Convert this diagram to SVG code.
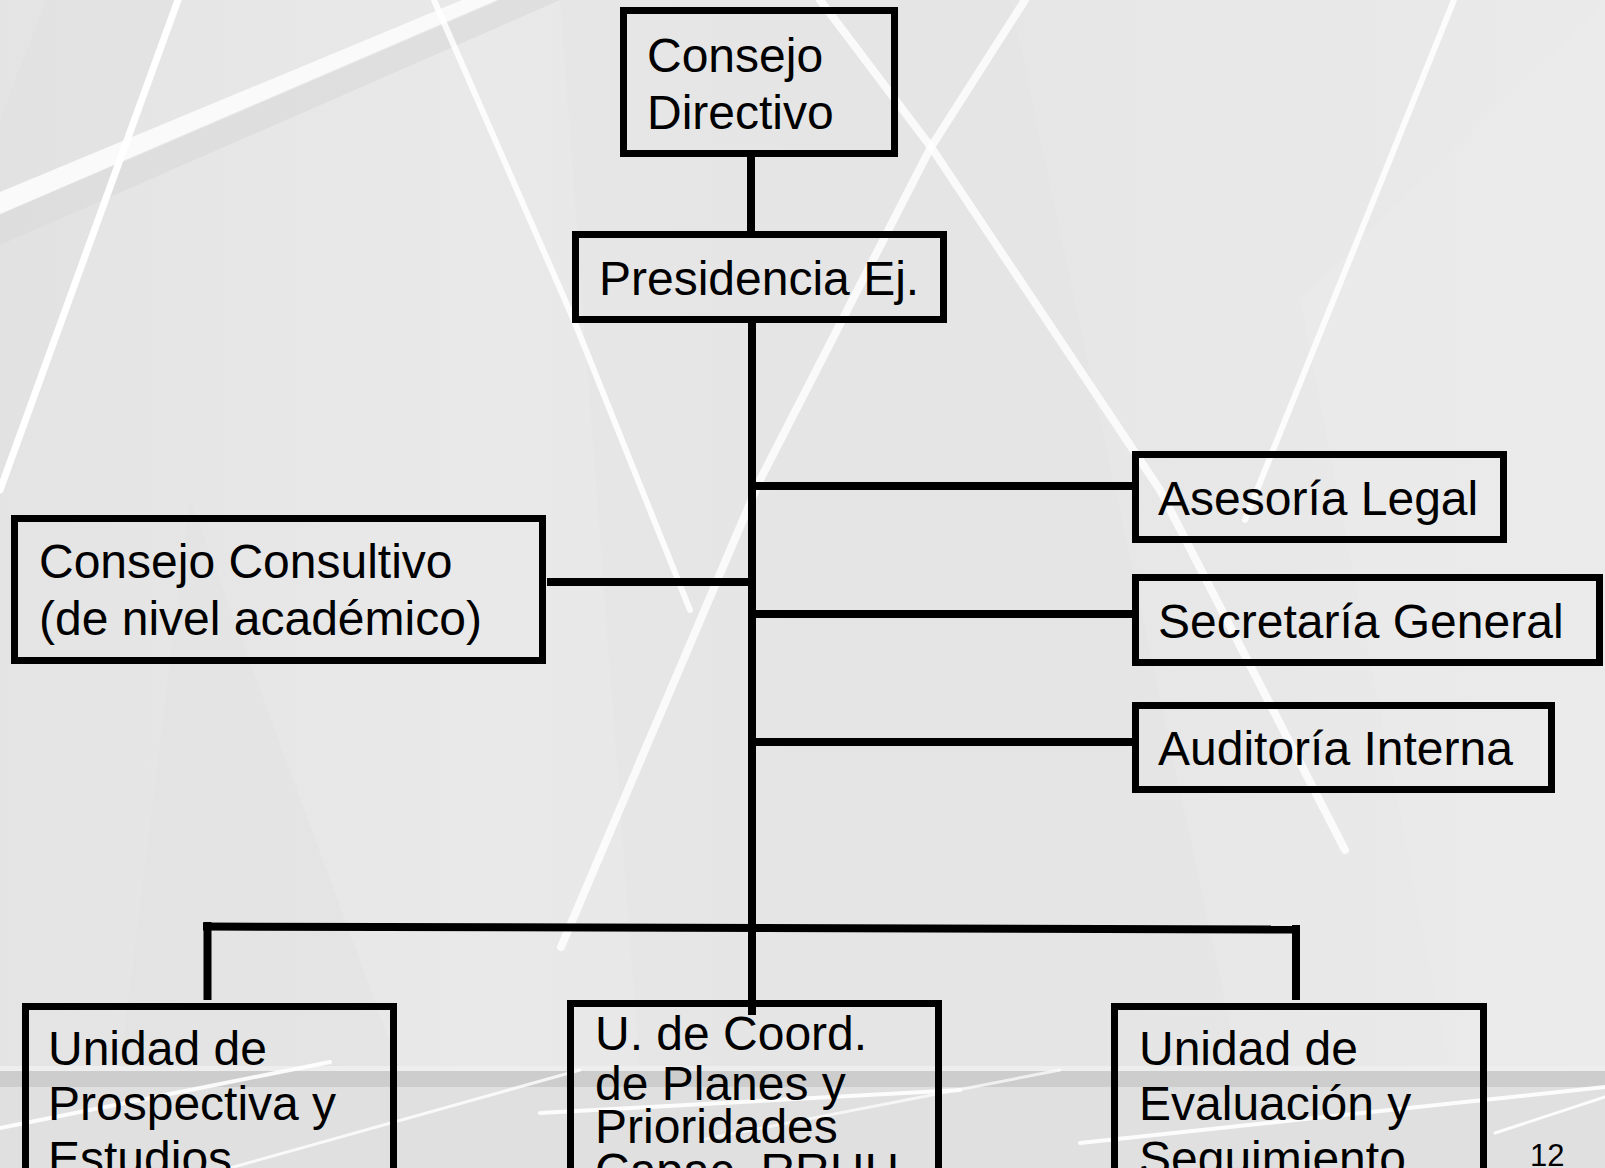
<svg xmlns="http://www.w3.org/2000/svg" width="1605" height="1168" viewBox="0 0 1605 1168">
<defs>
<style>
.box{fill:none;stroke:#000;stroke-width:7}
.t{font-family:"Liberation Sans",Arial,sans-serif;font-size:48px;fill:#000}
.c{stroke:#000;stroke-width:8;fill:none;stroke-linecap:butt}
.w{stroke:#fff;fill:none;stroke-linecap:round}
</style>
<linearGradient id="bg" x1="0" y1="0" x2="1" y2="0">
<stop offset="0" stop-color="#e4e4e4"/>
<stop offset="0.3" stop-color="#e9e9e9"/>
<stop offset="0.6" stop-color="#e6e6e6"/>
<stop offset="1" stop-color="#eaeaea"/>
</linearGradient>
</defs>
<g id="background">
<rect x="0" y="0" width="1605" height="1168" fill="url(#bg)"/>
<polygon points="46,0 180,0 0,490 0,120" fill="#e1e1e1" opacity="0.6"/>
<polygon points="190,500 400,1070 120,1070" fill="#e2e2e2" opacity="0.5"/>
<polygon points="560,0 1010,0 1240,1070 640,1070" fill="#e3e3e3" opacity="0.5"/>
<polygon points="1300,300 1605,0 1605,1070 1450,1070" fill="#ebebeb" opacity="0.5"/>
<polygon points="0,215 500,0 560,0 0,245" fill="#dcdcdc" opacity="0.8"/>
<polygon points="0,192 462,0 497,0 0,214" fill="#fafafa"/>
<path class="w" d="M178,0 L0,490" stroke-width="7"/>
<path class="w" d="M434,0 L575,323 L690,610" stroke-width="6" opacity="0.85"/>
<path class="w" d="M1025,0 L931,147 L760,480 L561,947" stroke-width="8" opacity="0.8"/>
<path class="w" d="M820,0 L931,147 L1160,490 L1345,850" stroke-width="8" opacity="0.8"/>
<path class="w" d="M1454,0 L1245,520" stroke-width="6" opacity="0.85"/>
<rect x="0" y="1066" width="1605" height="5" fill="#eeeeee"/>
<rect x="0" y="1071" width="1605" height="16" fill="#cdcdcd"/>
<rect x="0" y="1087" width="1605" height="81" fill="#e0e0e0"/>
<path class="w" d="M0,1128 L330,1062" stroke-width="4" opacity="0.9"/>
<path class="w" d="M230,1168 L580,1070" stroke-width="3" opacity="0.8"/>
<path class="w" d="M540,1113 L960,1090" stroke-width="4" opacity="0.9"/>
<path class="w" d="M700,1140 L1060,1070" stroke-width="3" opacity="0.7"/>
<path class="w" d="M1080,1143 L1605,1087" stroke-width="4" opacity="0.9"/>
<path class="w" d="M1495,1133 L1605,1097" stroke-width="3" opacity="0.9"/>
</g>
<g id="connectors">
<path class="c" d="M751,157 L751,231"/>
<path class="c" d="M752,323 L752,1015"/>
<path class="c" d="M547,582 L752,582"/>
<path class="c" d="M752,486 L1132,486"/>
<path class="c" d="M752,614 L1132,614"/>
<path class="c" d="M752,742 L1132,742"/>
<path class="c" d="M203,926.5 L1292,929.5" stroke-width="9"/>
<path class="c" d="M207.5,922 L207.5,1000"/>
<path class="c" d="M1296,925 L1296,1000" stroke-width="7"/>
</g>
<g id="consejo-directivo">
<rect class="box" x="623.5" y="10.5" width="271" height="143"/>
<text class="t" x="647" y="72">Consejo</text>
<text class="t" x="647" y="129">Directivo</text>
</g>
<g id="presidencia">
<rect class="box" x="575.5" y="234.5" width="368" height="85"/>
<text class="t" x="599" y="295">Presidencia Ej.</text>
</g>
<g id="consejo-consultivo">
<rect class="box" x="14.5" y="518.5" width="528" height="142"/>
<text class="t" x="39" y="578">Consejo Consultivo</text>
<text class="t" x="39" y="635">(de nivel académico)</text>
</g>
<g id="asesoria-legal">
<rect class="box" x="1135.5" y="454.5" width="368" height="85"/>
<text class="t" x="1158" y="515">Asesoría Legal</text>
</g>
<g id="secretaria-general">
<rect class="box" x="1135.5" y="577.5" width="464" height="85"/>
<text class="t" x="1158" y="638">Secretaría General</text>
</g>
<g id="auditoria-interna">
<rect class="box" x="1135.5" y="705.5" width="416" height="84"/>
<text class="t" x="1158" y="765">Auditoría Interna</text>
</g>
<g id="unidad-prospectiva">
<rect class="box" x="25.5" y="1006.5" width="368" height="200"/>
<text class="t" x="48" y="1065">Unidad de</text>
<text class="t" x="48" y="1120">Prospectiva y</text>
<text class="t" x="48" y="1175">Estudios</text>
</g>
<g id="unidad-coordinacion">
<rect class="box" x="570.5" y="1003.5" width="368" height="200"/>
<text class="t" x="595" y="1050">U. de Coord.</text>
<text class="t" x="595" y="1100">de Planes y</text>
<text class="t" x="595" y="1143">Prioridades</text>
<text class="t" x="595" y="1187">Capac. RRHH</text>
</g>
<g id="unidad-evaluacion">
<rect class="box" x="1114.5" y="1006.5" width="369" height="200"/>
<text class="t" x="1139" y="1065">Unidad de</text>
<text class="t" x="1139" y="1120">Evaluación y</text>
<text class="t" x="1139" y="1175">Seguimiento</text>
</g>
<g id="page-number">
<text x="1530" y="1166" style="font-family:'Liberation Sans',Arial,sans-serif;font-size:31px;fill:#000">12</text>
</g>
</svg>
